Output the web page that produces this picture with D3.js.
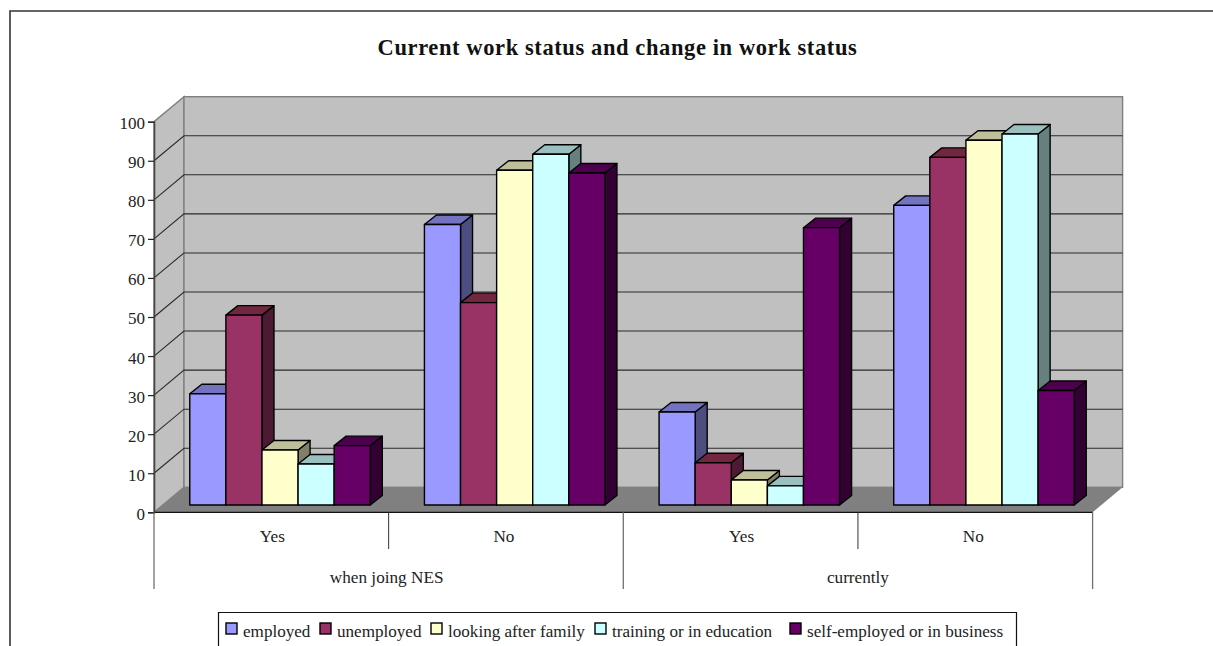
<!DOCTYPE html>
<html><head><meta charset="utf-8">
<script src="https://cdn.jsdelivr.net/npm/d3@7/dist/d3.min.js"></script>
<style>html,body{margin:0;padding:0;background:#fff}svg{display:block}text{font-family:"Liberation Serif",serif;fill:#222}</style>
</head><body><svg id="c" width="1213" height="646"></svg>
<script>
const title = "Current work status and change in work status";
const groups = ["when joing NES", "currently"];
const categories = ["Yes", "No", "Yes", "No"];
const seriesNames = ["employed","unemployed","looking after family","training or in education","self-employed or in business"];
const employed = [28.5, 71.8, 23.8, 76.7];
const unemployed = [48.6, 51.8, 10.8, 89];
const lookingAfterFamily = [14.1, 85.7, 6.4, 93.4];
const trainingOrEducation = [10.5, 89.8, 4.9, 95];
const selfEmployed = [15.2, 85, 71, 29.3];
const seriesValues = [employed, unemployed, lookingAfterFamily, trainingOrEducation, selfEmployed];
const colors = ["#9999FF","#993366","#FFFFCC","#CCFFFF","#660066"];
const topColors = ["#7373BF","#732640","#BFBF99","#99BFBF","#4D004D"];
const sideColors = ["#4D4D80","#4D1A33","#808066","#668080","#330033"];
const yTicks = d3.range(0, 101, 10);

const svg = d3.select("#c");
const x0 = d3.scaleBand().domain(d3.range(4)).range([154, 1092.6]);
const y = d3.scaleLinear().domain([0, 100]).range([512.3, 121.7]);
const barW = x0.bandwidth() / 6.5;
const wall = {dx: 30, dy: -25};
const plane = {dx: 8.7, dy: -7.3};
const depth = {dx: 12, dy: -9.5};
const pts = a => a.map(p => p.join(",")).join(" ");

// chart frame: the top and left edges only; the crop cuts off the others
svg.append("path").attr("d", "M1213,11H10V646").attr("fill", "none").attr("stroke", "#333").attr("stroke-width", 1.6);

svg.append("text").attr("x", 617.5).attr("y", 55).attr("text-anchor", "middle")
  .attr("font-size", 22.5).attr("letter-spacing", 0.6).attr("font-weight", "bold").style("fill", "#111").text(title);

const [L, R] = x0.range();
const Y0 = y(0), Y100 = y(100);
// side wall, back wall, floor
svg.append("polygon").attr("points", pts([[L,Y0],[L+wall.dx,Y0+wall.dy],[L+wall.dx,Y100+wall.dy],[L,Y100]]))
  .attr("fill", "#C0C0C0").attr("stroke", "#808080").attr("stroke-width", 1.4);
svg.append("rect").attr("x", L+wall.dx).attr("y", Y100+wall.dy).attr("width", R-L).attr("height", Y0-Y100)
  .attr("fill", "#C0C0C0").attr("stroke", "#808080").attr("stroke-width", 1.4);
svg.append("polygon").attr("points", pts([[L,Y0],[L+wall.dx,Y0+wall.dy],[R+wall.dx,Y0+wall.dy],[R,Y0]]))
  .attr("fill", "#808080");

// gridlines
yTicks.filter(t => t > 0 && t < 100).forEach(t => {
  svg.append("path").attr("d", `M${L},${y(t)}L${L+wall.dx},${y(t)+wall.dy}H${R+wall.dx}`)
    .attr("fill", "none").attr("stroke", "#2a2a2a").attr("stroke-width", 1.1);
});

// bars, left to right so that each front face covers its neighbour's side
categories.forEach((c, ci) => {
  seriesValues.forEach((vals, si) => {
    const xl = x0(ci) + (x0.bandwidth() - 5 * barW) / 2 + si * barW + plane.dx;
    const xr = xl + barW;
    const yb = y(0) + plane.dy;
    const yt = y(vals[ci]) + plane.dy;
    const g = svg.append("g").attr("stroke", "#000").attr("stroke-width", 1.4).attr("stroke-linejoin", "round");
    g.append("polygon").attr("points", pts([[xr,yb],[xr+depth.dx,yb+depth.dy],[xr+depth.dx,yt+depth.dy],[xr,yt]])).attr("fill", sideColors[si]);
    g.append("polygon").attr("points", pts([[xl,yt],[xl+depth.dx,yt+depth.dy],[xr+depth.dx,yt+depth.dy],[xr,yt]])).attr("fill", topColors[si]);
    g.append("rect").attr("x", xl).attr("y", yt).attr("width", barW).attr("height", yb - yt).attr("fill", colors[si]);
  });
});

// value axis
const yAxis = d3.axisLeft(y).tickValues(yTicks).tickSize(6).tickPadding(3);
const ax = svg.append("g").attr("transform", `translate(${L},0)`).call(yAxis);
ax.select(".domain").attr("stroke", "#444").attr("stroke-width", 1.6);
ax.selectAll("line").attr("stroke", "#222").attr("stroke-width", 1.2);
ax.selectAll("text").attr("font-size", 17).attr("font-family", '"Liberation Serif",serif').attr("transform", "translate(0,1.5)").style("fill", "#222");

// category axis
svg.append("line").attr("x1", L).attr("x2", R).attr("y1", Y0).attr("y2", Y0).attr("stroke", "#111").attr("stroke-width", 1.2);
d3.range(5).forEach(i => {
  const xp = L + i * x0.bandwidth();
  const long = i % 2 === 0;
  svg.append("line").attr("x1", xp).attr("x2", xp).attr("y1", Y0).attr("y2", long ? 589 : 549)
    .attr("stroke", long ? "#707070" : "#333").attr("stroke-width", long ? 1.3 : 1);
});
categories.forEach((c, i) => {
  svg.append("text").attr("x", x0(i) + x0.bandwidth() / 2 + (i % 2 ? -2 : 1)).attr("y", 542).attr("text-anchor", "middle").attr("font-size", 17.2).text(c);
});
groups.forEach((g, i) => {
  svg.append("text").attr("x", L + (i + .5) * 2 * x0.bandwidth() + (i ? 0 : -2)).attr("y", 583).attr("text-anchor", "middle").attr("font-size", 17.2).text(g);
});

// legend
const lg = svg.append("g");
lg.append("path").attr("d", "M218.5,646V612.5H1016.5V646").attr("fill", "#fff").attr("stroke", "#111").attr("stroke-width", 1.2);
const legendX = d3.scaleOrdinal().domain(d3.range(5)).range([226, 320, 431, 595, 790]);
seriesNames.forEach((n, i) => {
  const lx = legendX(i);
  lg.append("rect").attr("x", lx).attr("y", 623).attr("width", 11).attr("height", 11).attr("fill", colors[i]).attr("stroke", "#000").attr("stroke-width", 1.4);
  lg.append("text").attr("x", lx + 17).attr("y", 636.5).attr("font-size", 17.1).text(n);
});
</script></body></html>
